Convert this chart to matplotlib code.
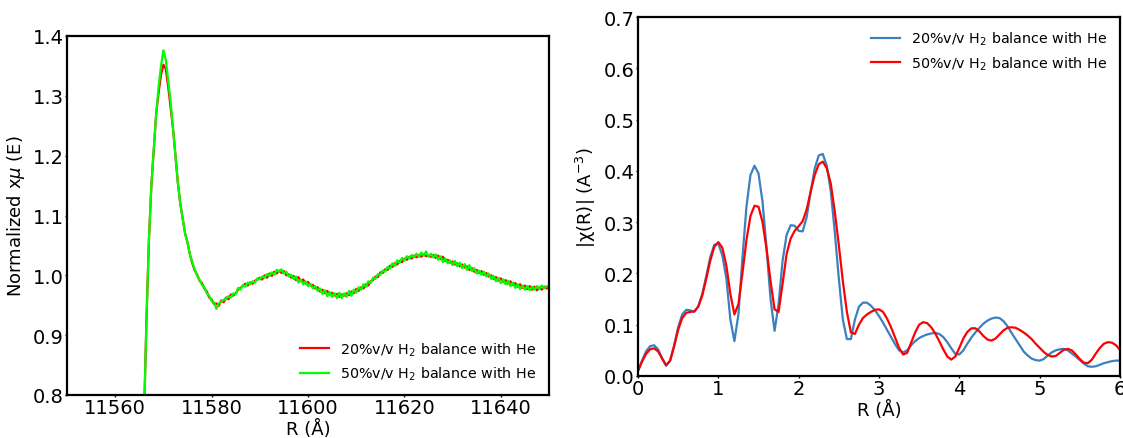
import numpy as np
import matplotlib.pyplot as plt

# ---- XANES (left) ----
e_edge = [11565.0, 11566.0, 11566.5, 11567.0, 11567.5, 11568.0, 11568.5, 11569.0,
          11569.5, 11570.0, 11570.5, 11571.0, 11571.5, 11572.0, 11572.5, 11573.0,
          11573.5, 11574.0, 11574.5, 11575.0, 11575.5]
mu20_edge = [0.60, 0.77, 0.93, 1.06, 1.15, 1.21, 1.27, 1.305, 1.335, 1.352, 1.345,
             1.315, 1.28, 1.245, 1.20, 1.155, 1.12, 1.095, 1.07, 1.055, 1.035]
mu50_edge = [0.60, 0.77, 0.93, 1.06, 1.15, 1.21, 1.27, 1.315, 1.350, 1.376, 1.36,
             1.325, 1.29, 1.245, 1.20, 1.155, 1.12, 1.095, 1.07, 1.055, 1.035]

e_tail = np.arange(11576.0, 11650.01, 0.5)
mu20_tail = [
    1.020, 1.008, 1.001, 0.991, 0.987, 0.978, 0.973, 0.963, 0.960, 0.952,
    0.953, 0.949, 0.958, 0.955, 0.963, 0.960, 0.968, 0.966, 0.970, 0.976,
    0.979, 0.982, 0.986, 0.983, 0.988, 0.986, 0.991, 0.993, 0.996, 0.993,
    1.000, 0.996, 1.003, 0.999, 1.006, 1.003, 1.008, 1.004, 1.007, 1.000,
    1.002, 0.996, 0.999, 0.992, 0.997, 0.990, 0.993, 0.986, 0.989, 0.983,
    0.984, 0.978, 0.980, 0.973, 0.976, 0.970, 0.974, 0.968, 0.971, 0.966,
    0.969, 0.964, 0.968, 0.966, 0.970, 0.967, 0.973, 0.970, 0.977, 0.974,
    0.980, 0.978, 0.985, 0.983, 0.990, 0.992, 0.998, 0.997, 1.005, 1.004,
    1.010, 1.009, 1.016, 1.014, 1.020, 1.018, 1.024, 1.022, 1.028, 1.026,
    1.031, 1.028, 1.033, 1.030, 1.034, 1.031, 1.035, 1.032, 1.033, 1.031,
    1.034, 1.029, 1.033, 1.027, 1.031, 1.024, 1.026, 1.021, 1.023, 1.018,
    1.020, 1.015, 1.018, 1.013, 1.015, 1.009, 1.012, 1.006, 1.009, 1.004,
    1.007, 1.001, 1.004, 0.998, 1.000, 0.994, 0.997, 0.991, 0.995, 0.989,
    0.992, 0.986, 0.990, 0.984, 0.987, 0.981, 0.985, 0.979, 0.983, 0.977,
    0.982, 0.976, 0.981, 0.975, 0.980, 0.976, 0.981, 0.978, 0.980]
mu50_tail = [
    1.022, 1.010, 0.999, 0.993, 0.984, 0.980, 0.970, 0.966, 0.957, 0.955,
    0.944, 0.953, 0.956, 0.959, 0.961, 0.965, 0.963, 0.970, 0.968, 0.979,
    0.976, 0.984, 0.981, 0.988, 0.985, 0.990, 0.988, 0.995, 0.993, 0.998,
    0.996, 1.002, 0.999, 1.005, 1.001, 1.009, 1.006, 1.010, 1.003, 1.006,
    0.998, 1.001, 0.994, 0.998, 0.988, 0.993, 0.985, 0.990, 0.982, 0.986,
    0.978, 0.982, 0.974, 0.978, 0.969, 0.975, 0.965, 0.972, 0.964, 0.970,
    0.962, 0.971, 0.962, 0.970, 0.964, 0.974, 0.966, 0.976, 0.971, 0.980,
    0.976, 0.985, 0.981, 0.990, 0.987, 0.996, 0.994, 1.002, 1.001, 1.008,
    1.006, 1.014, 1.011, 1.020, 1.016, 1.025, 1.021, 1.029, 1.025, 1.032,
    1.028, 1.034, 1.030, 1.036, 1.031, 1.038, 1.033, 1.040, 1.031, 1.036,
    1.030, 1.035, 1.026, 1.032, 1.022, 1.028, 1.020, 1.025, 1.017, 1.024,
    1.015, 1.021, 1.012, 1.019, 1.009, 1.017, 1.007, 1.012, 1.003, 1.008,
    1.001, 1.006, 0.998, 1.003, 0.994, 0.999, 0.990, 0.996, 0.987, 0.993,
    0.985, 0.991, 0.982, 0.988, 0.979, 0.985, 0.977, 0.983, 0.976, 0.982,
    0.975, 0.981, 0.976, 0.982, 0.977, 0.983, 0.978, 0.982, 0.981]

energy = np.concatenate([e_edge, e_tail])
mu20 = np.concatenate([mu20_edge, mu20_tail])
mu50 = np.concatenate([mu50_edge, mu50_tail])

# ---- FT-EXAFS (right) ----
r = np.round(np.arange(0, 6.001, 0.05), 2)
chi20 = [
    0.010, 0.030, 0.048, 0.058, 0.060, 0.052, 0.035, 0.020, 0.030, 0.060,
    0.095, 0.120, 0.129, 0.128, 0.125, 0.136, 0.160, 0.195, 0.232, 0.256,
    0.258, 0.235, 0.190, 0.110, 0.068, 0.120, 0.230, 0.330, 0.392, 0.410,
    0.395, 0.340, 0.250, 0.150, 0.088, 0.140, 0.225, 0.275, 0.294, 0.293,
    0.283, 0.282, 0.310, 0.360, 0.405, 0.430, 0.433, 0.410, 0.360, 0.280,
    0.190, 0.110, 0.072, 0.072, 0.110, 0.135, 0.143, 0.143, 0.137, 0.128,
    0.117, 0.104, 0.090, 0.076, 0.062, 0.050, 0.046, 0.050, 0.060, 0.068,
    0.074, 0.078, 0.081, 0.083, 0.084, 0.082, 0.076, 0.066, 0.054, 0.043,
    0.042, 0.050, 0.063, 0.075, 0.085, 0.094, 0.102, 0.108, 0.112, 0.114,
    0.113, 0.107, 0.097, 0.084, 0.072, 0.060, 0.048, 0.040, 0.034, 0.031,
    0.030, 0.033, 0.040, 0.046, 0.050, 0.052, 0.053, 0.050, 0.044, 0.038,
    0.031, 0.024, 0.019, 0.018, 0.019, 0.022, 0.025, 0.027, 0.029, 0.030,
    0.030]
chi50 = [
    0.010, 0.028, 0.043, 0.052, 0.054, 0.048, 0.034, 0.021, 0.030, 0.058,
    0.090, 0.113, 0.123, 0.125, 0.126, 0.135, 0.157, 0.190, 0.225, 0.252,
    0.261, 0.250, 0.215, 0.160, 0.120, 0.140, 0.200, 0.265, 0.312, 0.332,
    0.330, 0.300, 0.248, 0.185, 0.130, 0.125, 0.180, 0.238, 0.268, 0.283,
    0.292, 0.302, 0.325, 0.360, 0.392, 0.413, 0.418, 0.405, 0.375, 0.320,
    0.255, 0.185, 0.125, 0.085, 0.082, 0.100, 0.113, 0.120, 0.125, 0.129,
    0.130, 0.125, 0.112, 0.095, 0.075, 0.055, 0.042, 0.045, 0.065, 0.085,
    0.100, 0.105, 0.103, 0.095, 0.083, 0.068, 0.052, 0.038, 0.032, 0.038,
    0.055, 0.073, 0.086, 0.093, 0.093, 0.087, 0.078, 0.071, 0.069, 0.073,
    0.081, 0.089, 0.094, 0.095, 0.094, 0.090, 0.085, 0.079, 0.072, 0.063,
    0.055, 0.047, 0.041, 0.038, 0.039, 0.045, 0.051, 0.053, 0.050, 0.042,
    0.033, 0.026, 0.025, 0.032, 0.044, 0.055, 0.063, 0.066, 0.065, 0.060,
    0.051]

labels = ["20%v/v H$_2$ balance with He", "50%v/v H$_2$ balance with He"]

plt.rcParams["font.size"] = 13
plt.rcParams["mathtext.default"] = "regular"

fig = plt.figure(figsize=(11.23, 4.39), dpi=100)
ax1 = fig.add_axes([67 / 1123, 1 - 396 / 439, 482 / 1123, 359 / 439])
ax2 = fig.add_axes([638 / 1123, 1 - 377 / 439, 482 / 1123, 359 / 439])

ax1.plot(energy, mu20, color="red", lw=1.6, label=labels[0])
ax1.plot(energy, mu50, color="#00ff00", lw=1.6, label=labels[1])
ax1.set_xlim(11550, 11650)
ax1.set_ylim(0.8, 1.4)
ax1.set_xticks([11560, 11580, 11600, 11620, 11640])
ax1.set_xlabel("R (Å)", labelpad=1)
ax1.set_ylabel(r"Normalized x$\mathit{\mu}$ (E)", labelpad=4)
ax1.legend(loc="lower right", frameon=False, fontsize=10.3, handlelength=2.0)

ax2.plot(r, chi20, color="#3b80c0", lw=1.6, label=labels[0])
ax2.plot(r, chi50, color="red", lw=1.6, label=labels[1])
ax2.set_xlim(0, 6)
ax2.set_ylim(0, 0.7)
ax2.set_xlabel("R (Å)", labelpad=1)
ax2.set_ylabel("|χ(R)| (A$^{-3}$)", labelpad=4)
ax2.legend(loc="upper right", frameon=False, fontsize=10.3, handlelength=2.0)

for ax in (ax1, ax2):
    ax.tick_params(length=1.5, width=1, pad=1, labelsize=14)
    for s in ax.spines.values():
        s.set_linewidth(1.6)

fig.savefig("out.png", dpi=100)
